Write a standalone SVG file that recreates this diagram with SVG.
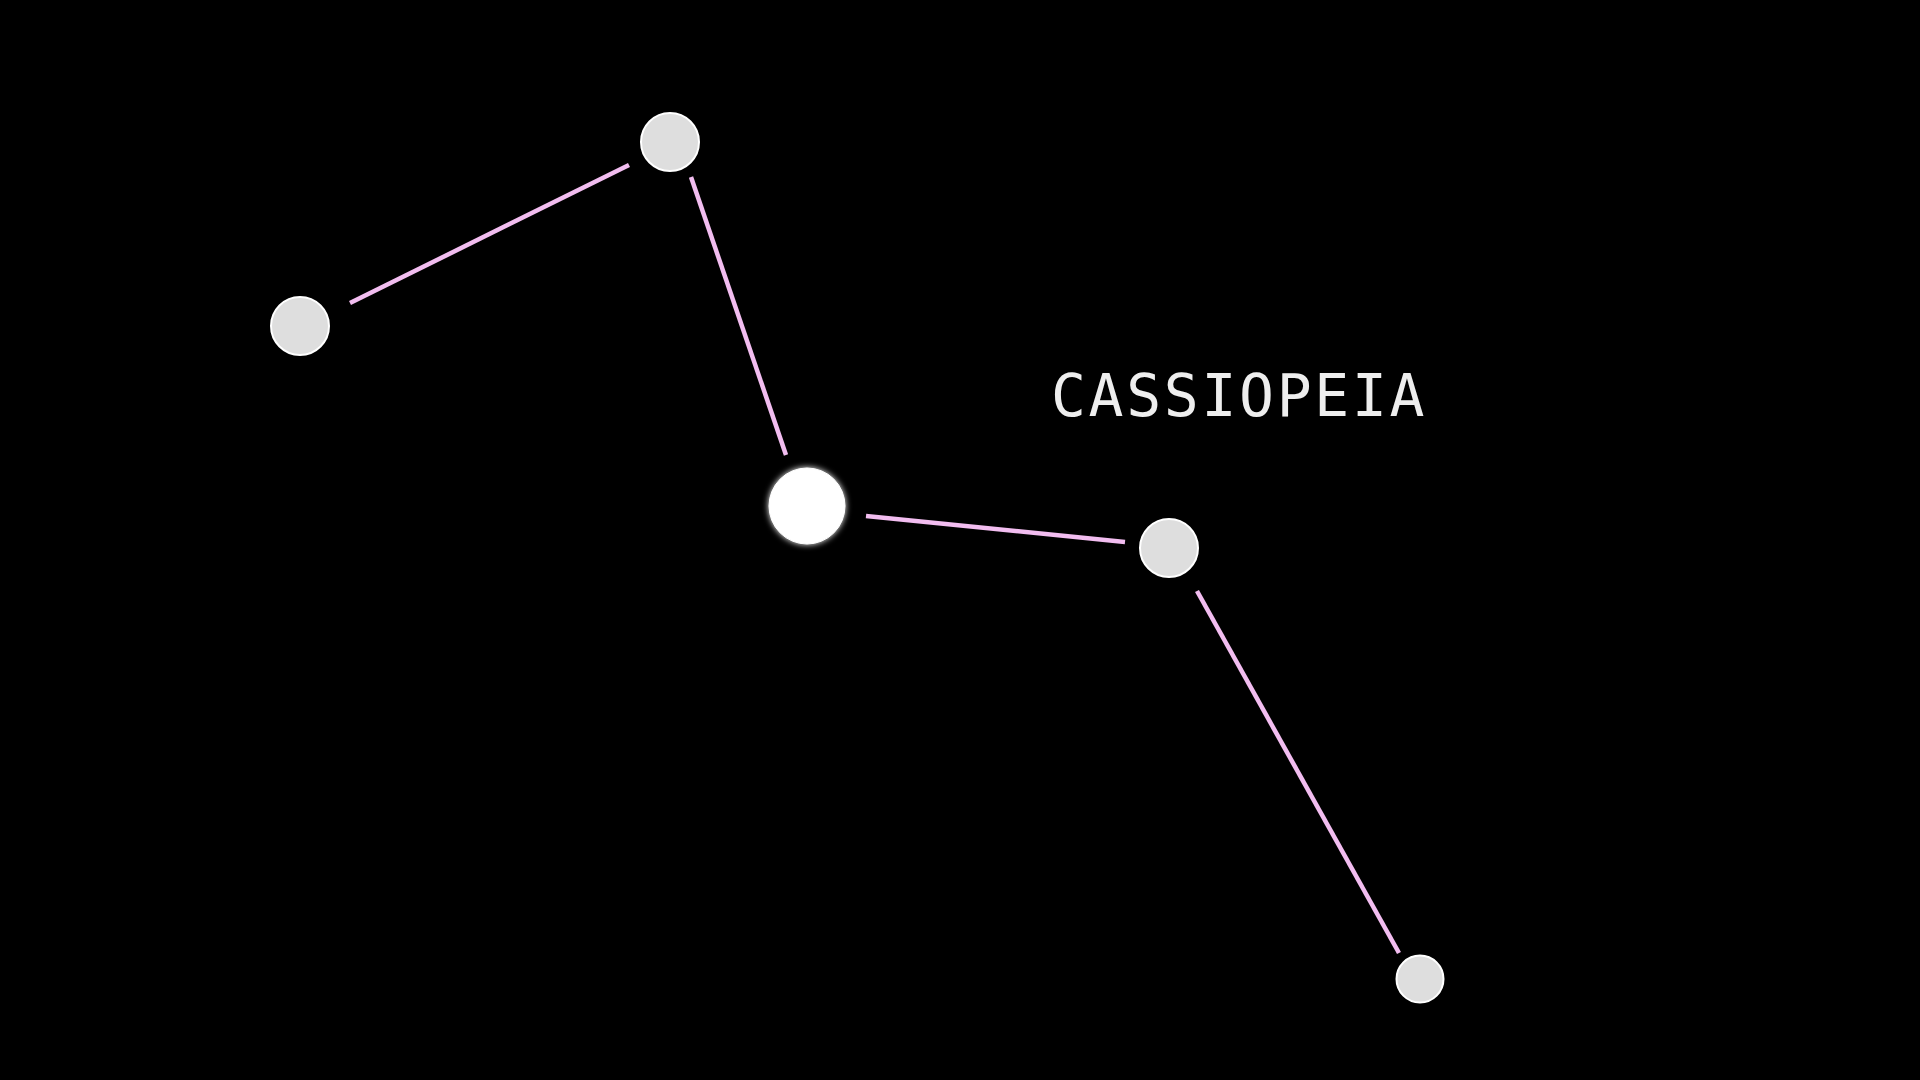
<svg xmlns="http://www.w3.org/2000/svg" width="1920" height="1080" viewBox="0 0 1920 1080">
<defs>
<style>
.link{stroke:#f2bdf0;stroke-width:4.5;stroke-linecap:butt;fill:none}
.star{fill:#dedede;stroke:#ffffff;stroke-width:2}
.label{font-family:"DejaVu Sans Mono",monospace;font-size:58px;fill:#eeeeee;letter-spacing:2.7px}
</style>
<filter id="glow" x="-50%" y="-50%" width="200%" height="200%">
<feGaussianBlur in="SourceGraphic" stdDeviation="3" result="b"/>
<feMerge><feMergeNode in="b"/><feMergeNode in="SourceGraphic"/></feMerge>
</filter>
</defs>
<rect width="1920" height="1080" fill="#000000"/>
<g id="connectors">
<line class="link" x1="350" y1="303" x2="629" y2="165"/>
<line class="link" x1="691" y1="177" x2="786" y2="455"/>
<line class="link" x1="866" y1="516" x2="1125" y2="542"/>
<line class="link" x1="1197" y1="591" x2="1399" y2="953"/>
</g>
<g id="star-a"><circle class="star" cx="300" cy="326" r="29"/></g>
<g id="star-b"><circle class="star" cx="670" cy="142" r="29"/></g>
<g id="star-c"><circle cx="807" cy="506" r="38" fill="#ffffff" stroke="#ffffff" stroke-width="1" filter="url(#glow)"/></g>
<g id="star-d"><circle class="star" cx="1169" cy="548" r="29"/></g>
<g id="star-e"><circle class="star" cx="1420" cy="979" r="23.5"/></g>
<g id="title"><text class="label" x="1051" y="416">CASSIOPEIA</text></g>
</svg>
